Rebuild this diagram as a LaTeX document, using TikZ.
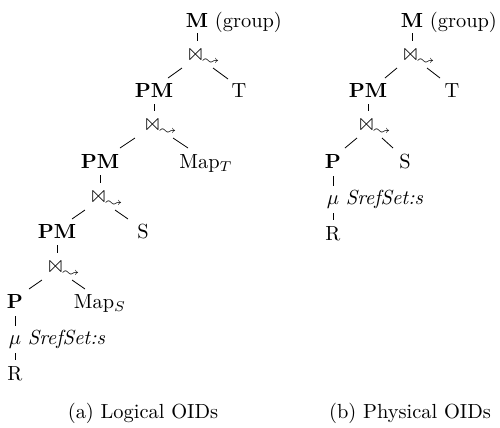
\documentclass[tikz,border=0pt]{standalone}
\usepackage{latexsym}
\begin{document}
\begin{tikzpicture}[x=0.49pt,y=-0.49pt,
  lbl/.style={anchor=base,inner sep=0pt,outer sep=0pt},
  conn/.style={line width=0.4pt}]
\useasboundingbox (0,0) rectangle (500,428);
\newcommand\joinlead{$\Join_{\rlap{$\scriptstyle\leadsto$}}$}
% ---------- (a) Logical OIDs ----------
\node[lbl] (M1)  at (197,27)  {\textbf{M}\rlap{\ (group)}};
\node[lbl] (j1)  at (196,61)  {\joinlead};
\node[lbl] (PM1) at (154,97)  {\textbf{PM}};
\node[lbl] (T1)  at (239,97)  {T};
\node[lbl] (j2)  at (153,131) {\joinlead};
\node[lbl] (PM2) at (100,168) {\textbf{PM}};
\node[lbl] (MT)  at (206,168) {Map$_T$};
\node[lbl] (j3)  at (99,203)  {\joinlead};
\node[lbl] (PM3) at (57,238)  {\textbf{PM}};
\node[lbl] (S1)  at (143,238) {S};
\node[lbl] (j4)  at (56,273)  {\joinlead};
\node[lbl] (P1)  at (15,308)  {\textbf{P}};
\node[lbl] (MS)  at (100,308) {Map$_S$};
\node[lbl] (mu1) at (15,344)  {$\mu$\rlap{\ \textit{SrefSet:s}}};
\node[lbl] (R1)  at (15,380)  {R};
\node[lbl] (capa) at (143,418) {(a) Logical OIDs};

\draw[conn] ([shift={(0,6)}]M1.base)   -- ([shift={(1,-20)}]j1.base);
\draw[conn] ([shift={(-14,7)}]j1.base) -- ([shift={(14,-19)}]PM1.base);
\draw[conn] ([shift={(17,7)}]j1.base)  -- ([shift={(-11,-18)}]T1.base);
\draw[conn] ([shift={(0,7)}]PM1.base)  -- ([shift={(1,-20)}]j2.base);
\draw[conn] ([shift={(-18,7)}]j2.base) -- ([shift={(20,-20)}]PM2.base);
\draw[conn] ([shift={(20,7)}]j2.base)  -- ([shift={(-18,-20)}]MT.base);
\draw[conn] ([shift={(0,7)}]PM2.base)  -- ([shift={(1,-20)}]j3.base);
\draw[conn] ([shift={(-14,7)}]j3.base) -- ([shift={(15,-19)}]PM3.base);
\draw[conn] ([shift={(16,7)}]j3.base)  -- ([shift={(-15,-19)}]S1.base);
\draw[conn] ([shift={(0,7)}]PM3.base)  -- ([shift={(1,-20)}]j4.base);
\draw[conn] ([shift={(-14,7)}]j4.base) -- ([shift={(14,-19)}]P1.base);
\draw[conn] ([shift={(16,7)}]j4.base)  -- ([shift={(-15,-19)}]MS.base);
\draw[conn] ([shift={(0,8)}]P1.base)   -- ([shift={(0,-18)}]mu1.base);
\draw[conn] ([shift={(0,9)}]mu1.base)  -- ([shift={(0,-20)}]R1.base);

% ---------- (b) Physical OIDs ----------
\node[lbl] (M2)  at (412,27)  {\textbf{M}\rlap{\ (group)}};
\node[lbl] (j5)  at (411,61)  {\joinlead};
\node[lbl] (PM4) at (368,97)  {\textbf{PM}};
\node[lbl] (T2)  at (452,97)  {T};
\node[lbl] (j6)  at (367,131) {\joinlead};
\node[lbl] (P2)  at (333,168) {\textbf{P}};
\node[lbl] (S2)  at (405,168) {S};
\node[lbl] (mu2) at (333,204) {$\mu$\rlap{\ \textit{SrefSet:s}}};
\node[lbl] (R2)  at (333,240) {R};
\node[lbl] (capb) at (410,418) {(b) Physical OIDs};

\draw[conn] ([shift={(0,6)}]M2.base)   -- ([shift={(1,-20)}]j5.base);
\draw[conn] ([shift={(-14,7)}]j5.base) -- ([shift={(17,-19)}]PM4.base);
\draw[conn] ([shift={(16,7)}]j5.base)  -- ([shift={(-12,-19)}]T2.base);
\draw[conn] ([shift={(0,7)}]PM4.base)  -- ([shift={(1,-20)}]j6.base);
\draw[conn] ([shift={(-10,7)}]j6.base) -- ([shift={(12,-20)}]P2.base);
\draw[conn] ([shift={(15,7)}]j6.base)  -- ([shift={(-12,-20)}]S2.base);
\draw[conn] ([shift={(0,8)}]P2.base)   -- ([shift={(0,-18)}]mu2.base);
\draw[conn] ([shift={(0,9)}]mu2.base)  -- ([shift={(0,-20)}]R2.base);
\end{tikzpicture}
\end{document}
